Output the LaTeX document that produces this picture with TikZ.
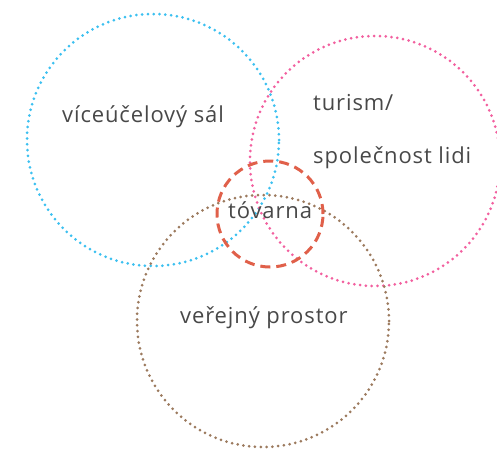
\documentclass[tikz,border=0pt]{standalone}
\usepackage{fontspec}
\setmainfont{Open Sans}[LetterSpace=4]
\definecolor{cblue}{HTML}{3CC0F0}
\definecolor{cpink}{HTML}{F2609F}
\definecolor{cbrown}{HTML}{9C7A5E}
\definecolor{cred}{HTML}{E0604A}
\definecolor{ctext}{HTML}{484848}
\begin{document}
\begin{tikzpicture}[x=1pt,y=1pt,
  dotring/.style={line width=3pt, line cap=round, dash pattern=on 0pt off 5.8pt},
  dashring/.style={line width=3pt, cred, dash pattern=on 10pt off 6pt},
  lbl/.style={font=\fontsize{22}{25}\selectfont, text=ctext, inner sep=0pt, anchor=base west}]
\useasboundingbox (0,0) rectangle (497,451);
\draw[dotring, cblue] (153,311) circle (126);
\draw[dotring, cpink] (375,290) circle (125);
\draw[dotring, cbrown] (263,130) circle (126);
\draw[dashring] (270,237) circle (53);
\node[lbl] (a) at (62,329) {víceúčelový sál};
\node[lbl] (b) at (313,341) {turism/};
\node[lbl] (c) at (313,288) {společnost lidi};
\node[lbl] (d) at (228,233) {tóvarna};
\node[lbl] (e) at (180,128) {veřejný prostor};
\end{tikzpicture}
\end{document}
